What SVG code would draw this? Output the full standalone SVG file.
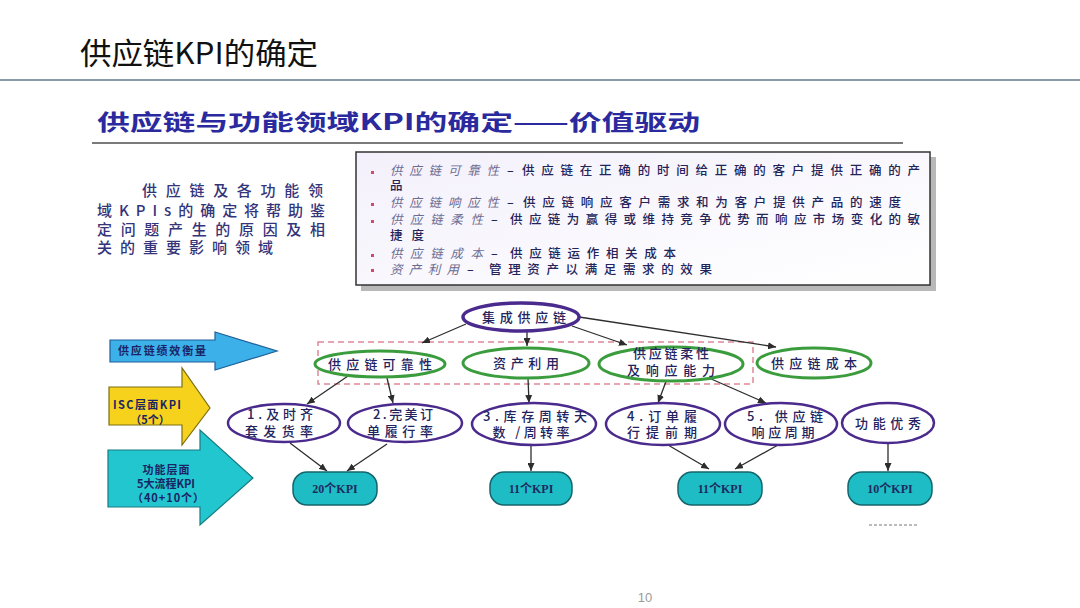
<svg xmlns="http://www.w3.org/2000/svg" width="1080" height="608" viewBox="0 0 1080 608">
<style>
.cjk{font-family:"Noto Sans CJK SC","Liberation Sans",sans-serif}
.title{font-size:30px;fill:#111}
.sub{font-size:22px;font-weight:bold;fill:#2a2a9e}
.para{font-size:15px;fill:#34347a;font-weight:500}
.term{font-size:12.5px;fill:#6c6c92;font-style:italic}
.desc{font-size:12.5px;fill:#24245a;font-weight:500}
.lbl{font-size:13px;fill:#23235e;font-weight:500}
.alb{font-size:11px;fill:#1a2464;font-weight:bold}
.kpi{font-size:12px;fill:#1d2a5e;font-weight:bold;font-family:"Liberation Serif","Noto Sans CJK SC",serif}
.g{fill:#fff;stroke:#3a9c3c;stroke-width:3}
.p{fill:#fff;stroke:#4a2a8c;stroke-width:2.5}
.t{fill:#1ebdc6;stroke:#14646b;stroke-width:1.5}
.c{stroke:#2d2d2d;stroke-width:1.3;fill:none;marker-end:url(#ah)}
.b{fill:#d24a68}
</style>
<defs>
<marker id="ah" markerUnits="userSpaceOnUse" markerWidth="8" markerHeight="7" refX="8" refY="3.5" orient="auto">
<path d="M0,0 L8,3.5 L0,7 z" fill="#2d2d2d"/>
</marker>
<linearGradient id="boxg" x1="0" y1="0" x2="1" y2="1">
<stop offset="0" stop-color="#f3f0fb"/>
<stop offset="1" stop-color="#ffffff"/>
</linearGradient>
</defs>
<rect width="1080" height="608" fill="#fff"/>
<text class="cjk title" x="80" y="64" textLength="238" lengthAdjust="spacingAndGlyphs">供应链KPI的确定</text>
<line x1="0" y1="80" x2="1080" y2="80" stroke="#8c9ba8" stroke-width="2"/>
<text class="cjk sub" x="97" y="130" textLength="603" lengthAdjust="spacingAndGlyphs">供应链与功能领域KPI的确定——价值驱动</text>
<line x1="92" y1="143" x2="903" y2="143" stroke="#7a7a7a" stroke-width="2"/>
<g id="para">
<text class="cjk para" x="142" y="196" textLength="181" lengthAdjust="spacing">供应链及各功能领</text>
<text class="cjk para" x="97" y="216" textLength="228" lengthAdjust="spacing">域KPIs的确定将帮助鉴</text>
<text class="cjk para" x="97" y="235" textLength="228" lengthAdjust="spacing">定问题产生的原因及相</text>
<text class="cjk para" x="97" y="253" textLength="176" lengthAdjust="spacing">关的重要影响领域</text>
</g>
<g id="defbox">
<rect x="361" y="157" width="575" height="134" fill="#b8b8b8"/>
<rect x="356" y="152" width="574" height="133" fill="url(#boxg)" stroke="#333" stroke-width="1.5"/>
<rect class="b" x="371" y="171" width="3" height="3"/>
<rect class="b" x="371" y="203" width="3" height="3"/>
<rect class="b" x="371" y="220" width="3" height="3"/>
<rect class="b" x="371" y="254" width="3" height="3"/>
<rect class="b" x="371" y="269" width="3" height="3"/>
<text class="cjk term" x="390" y="175" textLength="109" lengthAdjust="spacing">供应链可靠性</text>
<text class="cjk desc" x="507" y="175">–</text>
<text class="cjk desc" x="522" y="175" textLength="398" lengthAdjust="spacing">供应链在正确的时间给正确的客户提供正确的产</text>
<text class="cjk desc" x="390" y="190">品</text>
<text class="cjk term" x="390" y="207" textLength="109" lengthAdjust="spacing">供应链响应性</text>
<text class="cjk desc" x="507" y="207">–</text>
<text class="cjk desc" x="523" y="207" textLength="378" lengthAdjust="spacing">供应链响应客户需求和为客户提供产品的速度</text>
<text class="cjk term" x="390" y="224" textLength="93" lengthAdjust="spacing">供应链柔性</text>
<text class="cjk desc" x="491" y="224">–</text>
<text class="cjk desc" x="510" y="224" textLength="410" lengthAdjust="spacing">供应链为赢得或维持竞争优势而响应市场变化的敏</text>
<text class="cjk desc" x="390" y="240" textLength="34" lengthAdjust="spacing">捷度</text>
<text class="cjk term" x="390" y="258" textLength="93" lengthAdjust="spacing">供应链成本</text>
<text class="cjk desc" x="491" y="258">–</text>
<text class="cjk desc" x="510" y="258" textLength="166" lengthAdjust="spacing">供应链运作相关成本</text>
<text class="cjk term" x="390" y="274" textLength="69" lengthAdjust="spacing">资产利用</text>
<text class="cjk desc" x="467" y="274">–</text>
<text class="cjk desc" x="489" y="274" textLength="223" lengthAdjust="spacing">管理资产以满足需求的效果</text>
</g>
<g id="arrow-measure">
<polygon points="110,340 215,340 215,332 277,351 215,370 215,362 110,362" fill="#3cb0e8" stroke="#1e5f9a" stroke-width="1.2"/>
<text class="cjk alb" x="162" y="355" text-anchor="middle" textLength="88" lengthAdjust="spacing">供应链绩效衡量</text>
</g>
<g id="arrow-isc">
<polygon points="109,387 182,387 182,368 210,408 182,445 182,425 109,425" fill="#f6d21c" stroke="#7d6e10" stroke-width="1.2"/>
<text class="cjk alb" x="147" y="409" text-anchor="middle" textLength="68" lengthAdjust="spacing">ISC层面KPI</text>
<text class="cjk alb" x="150" y="424" text-anchor="middle">（5个）</text>
</g>
<g id="arrow-func">
<polygon points="108,450 200,450 200,430 253,478 200,525 200,507 108,507" fill="#22c6cf" stroke="#197b82" stroke-width="1.2"/>
<text class="cjk alb" x="166" y="474" text-anchor="middle" textLength="47" lengthAdjust="spacing">功能层面</text>
<text class="cjk alb" x="166" y="488" text-anchor="middle" textLength="58" lengthAdjust="spacing">5大流程KPI</text>
<text class="cjk alb" x="168" y="502" text-anchor="middle" textLength="72" lengthAdjust="spacing">（40+10个）</text>
</g>
<rect id="group-frame" x="318" y="342" width="435" height="42" fill="none" stroke="#e08898" stroke-width="1.5" stroke-dasharray="6 4"/>
<g id="connectors">
<line class="c" x1="466" y1="324" x2="422" y2="343"/>
<line class="c" x1="527" y1="331" x2="527" y2="346"/>
<line class="c" x1="572" y1="326" x2="627" y2="345"/>
<line class="c" x1="579" y1="317" x2="776" y2="347"/>
<line class="c" x1="348" y1="376" x2="307" y2="404"/>
<line class="c" x1="387" y1="378" x2="393" y2="403"/>
<line class="c" x1="528" y1="378" x2="529" y2="403"/>
<line class="c" x1="668" y1="376" x2="658" y2="403"/>
<line class="c" x1="693" y1="371" x2="766" y2="403"/>
<line class="c" x1="290" y1="443" x2="327" y2="471"/>
<line class="c" x1="387" y1="444" x2="347" y2="471"/>
<line class="c" x1="531" y1="445" x2="531" y2="471"/>
<line class="c" x1="668" y1="445" x2="709" y2="469"/>
<line class="c" x1="778" y1="445" x2="735" y2="469"/>
<line class="c" x1="888" y1="443" x2="888" y2="471"/>
</g>
<g id="isc">
<ellipse cx="521" cy="317" rx="58" ry="14" fill="#fff" stroke="#4a2a8c" stroke-width="3.5"/>
<text class="cjk lbl" x="524" y="322" text-anchor="middle" textLength="84" lengthAdjust="spacing">集成供应链</text>
</g>
<g id="reliability">
<ellipse class="g" cx="380" cy="364" rx="65" ry="13"/>
<text class="cjk lbl" x="380" y="369" text-anchor="middle" textLength="104" lengthAdjust="spacing">供应链可靠性</text>
</g>
<g id="asset">
<ellipse class="g" cx="526" cy="363" rx="63" ry="15"/>
<text class="cjk lbl" x="526" y="368" text-anchor="middle" textLength="66" lengthAdjust="spacing">资产利用</text>
</g>
<g id="flex">
<ellipse class="g" cx="671" cy="364" rx="72" ry="17"/>
<text class="cjk lbl" x="671" y="358" text-anchor="middle" textLength="76" lengthAdjust="spacing">供应链柔性</text>
<text class="cjk lbl" x="671" y="375" text-anchor="middle" textLength="88" lengthAdjust="spacing">及响应能力</text>
</g>
<g id="cost">
<ellipse class="g" cx="814" cy="363" rx="57" ry="15"/>
<text class="cjk lbl" x="814" y="368" text-anchor="middle" textLength="86" lengthAdjust="spacing">供应链成本</text>
</g>
<g id="k1">
<ellipse class="p" cx="284" cy="423" rx="56" ry="19"/>
<text class="cjk lbl" x="280" y="419" text-anchor="middle" textLength="66" lengthAdjust="spacing">1.及时齐</text>
<text class="cjk lbl" x="279" y="436" text-anchor="middle" textLength="68" lengthAdjust="spacing">套发货率</text>
</g>
<g id="k2">
<ellipse class="p" cx="405" cy="423" rx="57" ry="19"/>
<text class="cjk lbl" x="403" y="419" text-anchor="middle" textLength="60" lengthAdjust="spacing">2.完美订</text>
<text class="cjk lbl" x="400" y="436" text-anchor="middle" textLength="66" lengthAdjust="spacing">单履行率</text>
</g>
<g id="k3">
<ellipse class="p" cx="534" cy="424" rx="62" ry="21"/>
<text class="cjk lbl" x="535" y="421" text-anchor="middle" textLength="104" lengthAdjust="spacing">3.库存周转天</text>
<text class="cjk lbl" x="531" y="437" text-anchor="middle" textLength="77" lengthAdjust="spacing">数 /周转率</text>
</g>
<g id="k4">
<ellipse class="p" cx="663" cy="424" rx="57" ry="21"/>
<text class="cjk lbl" x="662" y="421" text-anchor="middle" textLength="70" lengthAdjust="spacing">4.订单履</text>
<text class="cjk lbl" x="662" y="437" text-anchor="middle" textLength="70" lengthAdjust="spacing">行提前期</text>
</g>
<g id="k5">
<ellipse class="p" cx="781" cy="424" rx="56" ry="21"/>
<text class="cjk lbl" x="785" y="421" text-anchor="middle" textLength="76" lengthAdjust="spacing">5. 供应链</text>
<text class="cjk lbl" x="783" y="437" text-anchor="middle" textLength="63" lengthAdjust="spacing">响应周期</text>
</g>
<g id="func">
<ellipse class="p" cx="888" cy="423" rx="46" ry="20"/>
<text class="cjk lbl" x="888" y="428" text-anchor="middle" textLength="66" lengthAdjust="spacing">功能优秀</text>
</g>
<g id="r20">
<rect class="t" x="293" y="472" width="84" height="33" rx="14"/>
<text class="kpi cjk" x="335" y="493" text-anchor="middle">20个KPI</text>
</g>
<g id="r11a">
<rect class="t" x="490" y="472" width="82" height="33" rx="14"/>
<text class="kpi cjk" x="531" y="493" text-anchor="middle">11个KPI</text>
</g>
<g id="r11b">
<rect class="t" x="678" y="472" width="84" height="33" rx="14"/>
<text class="kpi cjk" x="720" y="493" text-anchor="middle">11个KPI</text>
</g>
<g id="r10">
<rect class="t" x="848" y="472" width="84" height="33" rx="14"/>
<text class="kpi cjk" x="890" y="493" text-anchor="middle">10个KPI</text>
</g>
<line x1="869" y1="525" x2="918" y2="525" stroke="#777" stroke-width="1" stroke-dasharray="3 2"/>
<text x="645" y="602" font-family="Liberation Sans, sans-serif" font-size="13" fill="#9a9a9a" text-anchor="middle">10</text>
</svg>
